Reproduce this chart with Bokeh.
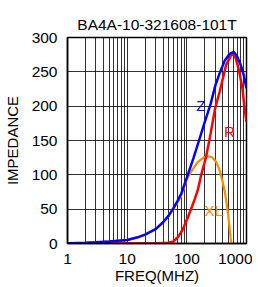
from bokeh.plotting import figure
from bokeh.models import Range1d, FixedTicker, ColumnDataSource
from bokeh.embed import file_html
from bokeh.resources import INLINE
from bokeh.core.properties import value

title = "BA4A-10-321608-101T"

z_freq = [1, 2, 3, 5, 7, 10, 15, 20, 30, 40, 50, 60, 70, 80, 100, 130, 160, 200,
          250, 300, 355, 430, 520, 615, 700, 800, 900, 1000]
z_vals = [0.5, 1, 1.8, 3, 4, 5, 9, 13, 21, 31, 41, 52, 62, 72, 96, 125, 150, 177,
          203, 230, 248, 266, 276, 279, 272, 260, 245, 226]

r_freq = [1, 10, 30, 50, 60, 72, 85, 105, 130, 153, 174, 210, 250, 300, 355, 455,
          550, 625, 700, 755, 855, 915, 1000]
r_vals = [0.3, 0.3, 0.3, 1, 3, 10, 20, 39, 60, 78, 100, 126, 160, 198, 221, 260,
          274, 276, 262, 250, 226, 201, 177]

xl_freq = [1, 2, 3, 5, 7, 10, 15, 20, 30, 40, 50, 60, 70, 80, 98, 117, 150, 190,
           224, 260, 309, 350, 398, 440, 478, 510, 543, 560]
xl_vals = [0.5, 1, 1.8, 3, 4, 5, 9, 13, 21, 31, 41, 51, 60, 69, 92, 104, 118, 125,
           127, 126, 119, 108, 90, 72, 51, 30, 7, 0]

x_ticks = [1, 10, 100, 1000]
x_grid = [m * d for d in [1, 10, 100] for m in range(1, 10)] + [1000]
y_ticks = [0, 50, 100, 150, 200, 250, 300]

label_text = ["Z", "R", "XL"]
label_x = [172, 516, 282]
label_y = [201, 163, 48]
label_color = ["#0000ff", "#ff0000", "#ff8c00"]

FONT = "Liberation Sans"

p = figure(width=252, height=286, x_axis_type="log",
           x_range=Range1d(1, 1000), y_range=Range1d(0, 300),
           output_backend="svg", toolbar_location=None, title=title,
           min_border_left=64, min_border_right=6, min_border_top=37,
           min_border_bottom=20)

p.title.align = "center"
p.title.text_font = FONT
p.title.text_font_size = "15.5px"
p.title.text_font_style = "normal"
p.title.text_color = "black"

p.background_fill_color = "white"
p.border_fill_color = "white"
p.outline_line_color = "black"
p.outline_line_width = 1.5

p.xaxis.ticker = FixedTicker(ticks=x_ticks)
p.xaxis.major_label_overrides = {1: "1", 10: "10", 100: "100", 1000: "1000"}
p.yaxis.ticker = FixedTicker(ticks=y_ticks)
p.xgrid.ticker = FixedTicker(ticks=x_grid)
p.ygrid.ticker = FixedTicker(ticks=y_ticks)

for g in (p.xgrid, p.ygrid):
    g.grid_line_color = "black"
    g.grid_line_width = 1
    g.grid_line_alpha = 0.8

for ax in (p.xaxis, p.yaxis):
    ax.axis_line_color = "black"
    ax.axis_line_width = 1.5
    ax.major_tick_line_color = None
    ax.minor_tick_line_color = None
    ax.major_label_text_font = FONT
    ax.major_label_text_font_size = "15.5px"
    ax.major_label_text_color = "black"
    ax.axis_label_text_font = FONT
    ax.axis_label_text_font_size = "15px"
    ax.axis_label_text_font_style = "normal"
    ax.axis_label_text_color = "black"

p.xaxis.axis_label = "FREQ(MHZ)"
p.yaxis.axis_label = "IMPEDANCE"
p.xaxis.major_label_standoff = 4
p.xaxis.axis_label_standoff = 0
p.yaxis.major_label_standoff = 4
p.yaxis.axis_label_standoff = 8

p.line(xl_freq, xl_vals, line_color="#ff8c00", line_width=2.2)
p.line(r_freq, r_vals, line_color="#ff0000", line_width=2.5)
p.line(z_freq, z_vals, line_color="#0000ff", line_width=2.5)

src = ColumnDataSource(dict(x=label_x, y=label_y, t=label_text, c=label_color))
p.text(x="x", y="y", text="t", text_color="c", source=src,
       text_font=value(FONT), text_font_size="15px",
       text_align="center", text_baseline="middle")

open("out.html", "w").write(file_html(p, INLINE))
